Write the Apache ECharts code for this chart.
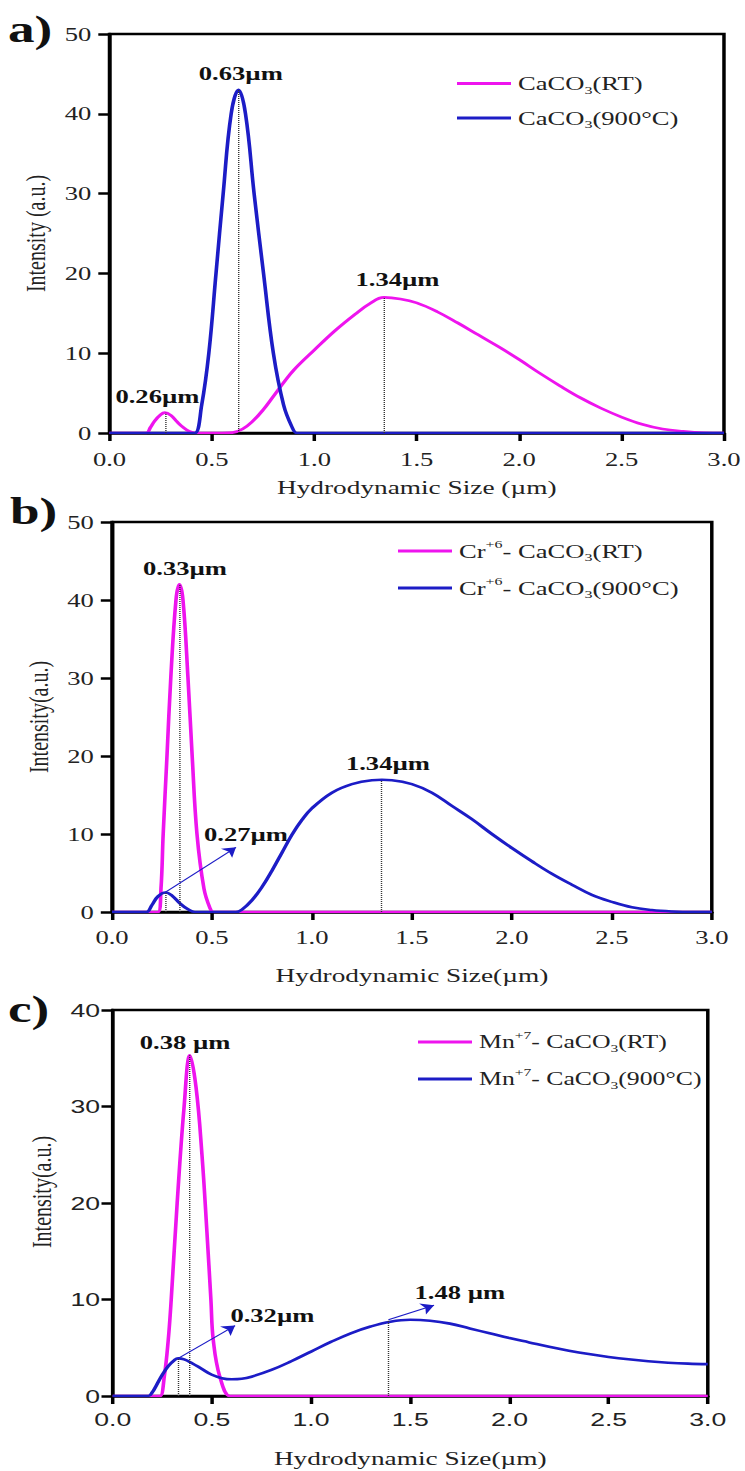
<!DOCTYPE html>
<html>
<head>
<meta charset="utf-8">
<script src="https://cdn.jsdelivr.net/npm/echarts/dist/echarts.min.js"></script>
<style>
  html, body { margin: 0; padding: 0; background: #fff; overflow: hidden; }
  /* the source figure is stretched sideways, so draw narrow and widen it */
  #main { width: 532px; height: 1471px; transform: scaleX(1.4); transform-origin: 0 0; }
</style>
</head>
<body>
<div id="main"></div>
<script>
var S = 1.4;
var SERIF = '"Liberation Serif", "Times New Roman", serif';
var SANS = '"Liberation Sans", Arial, sans-serif';
var MAGENTA = '#ee14ee';
var BLUE = '#1c1cc6';

// a) CaCO3
var aRtX = [0, 0.15, 0.18, 0.20, 0.22, 0.25, 0.27, 0.30, 0.33, 0.36, 0.39, 0.42, 0.45, 0.55, 0.60, 0.65, 0.70, 0.75, 0.80, 0.85, 0.90, 1.00, 1.10, 1.20, 1.27, 1.34, 1.42, 1.50, 1.60, 1.70, 1.80, 1.90, 2.00, 2.10, 2.20, 2.30, 2.40, 2.50, 2.60, 2.70, 2.80, 2.90, 3.00];
var aRtY = [0, 0, 0, 0.7, 1.5, 2.3, 2.55, 2.2, 1.4, 0.7, 0.2, 0, 0, 0, 0.05, 0.5, 1.5, 2.9, 4.6, 6.3, 7.9, 10.4, 12.8, 14.9, 16.2, 17.0, 16.8, 16.3, 15.2, 13.8, 12.3, 10.8, 9.2, 7.5, 5.9, 4.4, 3.1, 2.0, 1.1, 0.5, 0.2, 0.03, 0];
var aHotX = [0, 0.38, 0.416, 0.45, 0.485, 0.52, 0.555, 0.594, 0.63, 0.664, 0.706, 0.752, 0.80, 0.85, 0.89, 0.915, 0.95, 3.00];
var aHotY = [0, 0, 0, 3.5, 10, 20, 30, 40, 43, 40, 30, 20, 10, 3.5, 0.8, 0, 0, 0];
var aDrops = [[0.274, 2.55], [0.629, 43], [1.343, 17]];
var aTags = [['0.26µm', 0.234, 4.6], ['0.63µm', 0.641, 45.0], ['1.34µm', 1.406, 19.2]];
var aArrows = [];

// b) Cr+6 - CaCO3
var bRtX = [0, 0.20, 0.23, 0.245, 0.256, 0.275, 0.294, 0.32, 0.337, 0.355, 0.38, 0.401, 0.425, 0.46, 0.49, 0.507, 0.54, 3.00];
var bRtY = [0, 0, 0, 3, 10, 20, 30, 40, 42, 40, 30, 20, 10, 3, 0.5, 0, 0, 0];
var bHotX = [0, 0.15, 0.173, 0.20, 0.23, 0.268, 0.30, 0.34, 0.38, 0.415, 0.44, 0.60, 0.62, 0.65, 0.70, 0.75, 0.80, 0.85, 0.90, 0.95, 1.00, 1.10, 1.20, 1.30, 1.35, 1.40, 1.50, 1.60, 1.70, 1.80, 1.90, 2.00, 2.10, 2.20, 2.30, 2.40, 2.50, 2.60, 2.70, 2.80, 2.90, 3.00];
var bHotY = [0, 0, 0, 0.9, 2.0, 2.5, 2.1, 1.1, 0.35, 0, 0, 0, 0, 0.3, 1.5, 3.2, 5.3, 7.6, 9.9, 11.8, 13.3, 15.3, 16.4, 16.9, 16.95, 16.9, 16.4, 15.3, 13.6, 11.9, 10.0, 8.2, 6.5, 4.9, 3.5, 2.2, 1.3, 0.6, 0.25, 0.07, 0, 0];
var bDrops = [[0.268, 2.5], [0.337, 42], [1.345, 16.9]];
var bTags = [['0.33µm', 0.365, 44.0], ['0.27µm', 0.67, 10.0], ['1.34µm', 1.38, 19.0]];
var bArrows = [[0.258, 2.4, 0.62, 8.3]];

// c) Mn+7 - CaCO3
var cRtX = [0, 0.22, 0.239, 0.26, 0.28, 0.295, 0.325, 0.36, 0.389, 0.42, 0.45, 0.475, 0.495, 0.507, 0.54, 0.591, 0.62, 3.00];
var cRtY = [0, 0, 0, 2, 5.8, 10, 20, 30, 35.3, 32, 25, 17, 10, 5.8, 2, 0, 0, 0];
var cHotX = [0, 0.15, 0.18, 0.20, 0.22, 0.25, 0.28, 0.31, 0.33, 0.36, 0.40, 0.45, 0.50, 0.55, 0.60, 0.65, 0.70, 0.80, 0.90, 1.00, 1.10, 1.20, 1.30, 1.40, 1.50, 1.60, 1.70, 1.80, 1.90, 2.00, 2.10, 2.20, 2.30, 2.40, 2.50, 2.60, 2.70, 2.80, 2.90, 3.00];
var cHotY = [0, 0, 0, 0.4, 1.1, 2.2, 3.1, 3.7, 3.9, 3.8, 3.4, 2.8, 2.2, 1.85, 1.73, 1.78, 2.0, 2.7, 3.6, 4.6, 5.6, 6.5, 7.2, 7.7, 7.9, 7.8, 7.5, 7.0, 6.5, 6.0, 5.55, 5.1, 4.7, 4.35, 4.05, 3.8, 3.6, 3.45, 3.35, 3.3];
var cDrops = [[0.331, 3.9], [0.389, 35.3], [1.388, 7.8]];
var cTags = [['0.38 µm', 0.365, 36.6], ['0.32µm', 0.805, 8.3], ['1.48 µm', 1.75, 10.7]];
var cArrows = [[0.33, 3.9, 0.617, 7.3], [1.39, 7.9, 1.62, 9.4]];

var xTicks = ['0.0', '0.5', '1.0', '1.5', '2.0', '2.5', '3.0'];
var yMax = [50, 50, 40];
var panelLetters = ['a)', 'b)', 'c)'];
var xNames = ['Hydrodynamic Size (µm)', 'Hydrodynamic Size(µm)', 'Hydrodynamic Size(µm)'];
var yNames = ['Intensity (a.u.)', 'Intensity(a.u.)', 'Intensity(a.u.)'];
var names = [
    ['CaCO3(RT)', 'CaCO3(900°C)'],
    ['Cr+6- CaCO3(RT)', 'Cr+6- CaCO3(900°C)'],
    ['Mn+7- CaCO3(RT)', 'Mn+7- CaCO3(900°C)']
];
var legendText = {
    'CaCO3(RT)': '{n|CaCO}{sub|3}{n|(RT)}',
    'CaCO3(900°C)': '{n|CaCO}{sub|3}{n|(900°C)}',
    'Cr+6- CaCO3(RT)': '{n|Cr}{sup|+6}{n|- CaCO}{sub|3}{n|(RT)}',
    'Cr+6- CaCO3(900°C)': '{n|Cr}{sup|+6}{n|- CaCO}{sub|3}{n|(900°C)}',
    'Mn+7- CaCO3(RT)': '{n|Mn}{sup|+7}{n|- CaCO}{sub|3}{n|(RT)}',
    'Mn+7- CaCO3(900°C)': '{n|Mn}{sup|+7}{n|- CaCO}{sub|3}{n|(900°C)}'
};

// plot boxes, measured in the reference (pixels)
var boxes = [
    {left: 109.5, right: 724.5, top: 34, bottom: 433},
    {left: 112, right: 712, top: 522, bottom: 912},
    {left: 112.7, right: 708, top: 1010, bottom: 1396}
];
var fonts = [SERIF, SERIF, SANS];
var xLabelMargin = [17, 16, 14];
var xNameGap = [44, 53, 52];
var yNameGap = [31, 33, 32];
var yNameShift = [0, 0, 22];
var yLabelMargin = [13, 13, 9];
var legendPos = [[457, 74], [398, 539], [418, 1030]];
var legendFont = [19, 19, 18.4];
var letterPos = [[8, 10], [10, 492], [8, 990]];

function pairs(xs, ys) {
    return xs.map(function (x, i) { return [x, ys[i]]; });
}

function marks(drops, arrows) {
    var lines = drops.map(function (d) {
        return [{coord: [d[0], 0]}, {coord: [d[0], d[1]]}];
    });
    arrows.forEach(function (a) {
        lines.push([
            {coord: [a[0], a[1]], lineStyle: {color: BLUE, type: 'solid', width: 1}},
            {coord: [a[2], a[3]], symbol: 'arrow', symbolSize: 9}
        ]);
    });
    return lines;
}

var grids = [], xAxes = [], yAxes = [], series = [], legends = [], titles = [];
var panels = [
    [aRtX, aRtY, aHotX, aHotY, aDrops, aTags, aArrows],
    [bRtX, bRtY, bHotX, bHotY, bDrops, bTags, bArrows],
    [cRtX, cRtY, cHotX, cHotY, cDrops, cTags, cArrows]
];

panels.forEach(function (p, i) {
    var b = boxes[i];
    grids.push({
        left: b.left / S, right: (745 - b.right) / S, top: b.top, height: b.bottom - b.top,
        show: true, borderColor: '#000', borderWidth: 2.5, containLabel: false
    });
    xAxes.push({
        type: 'value', gridIndex: i, min: 0, max: 3, interval: 0.5,
        name: xNames[i], nameLocation: 'middle', nameGap: xNameGap[i],
        nameTextStyle: {fontFamily: SERIF, fontSize: 19.5, color: '#222'},
        axisLine: {lineStyle: {color: '#000', width: 2.5}},
        axisTick: {length: 8, lineStyle: {color: '#000', width: 2.5}},
        axisLabel: {
            margin: xLabelMargin[i], fontFamily: fonts[i], fontSize: 19, color: '#222',
            formatter: function (v) { return xTicks[Math.round(v / 0.5)]; }
        },
        splitLine: {show: false}
    });
    yAxes.push({
        type: 'value', gridIndex: i, min: 0, max: yMax[i], interval: 10,
        name: yNames[i], nameLocation: 'middle', nameGap: yNameGap[i],
        nameTextStyle: {fontFamily: SERIF, fontSize: 20, color: '#222', padding: [0, 0, 0, yNameShift[i]]},
        axisLine: {show: true, lineStyle: {color: '#000', width: 2.5}},
        axisTick: {show: true, length: 8, lineStyle: {color: '#000', width: 2.5}},
        axisLabel: {margin: yLabelMargin[i], fontFamily: fonts[i], fontSize: 19, color: '#222'},
        splitLine: {show: false}
    });
    series.push({
        name: names[i][0], type: 'line', xAxisIndex: i, yAxisIndex: i,
        data: pairs(p[0], p[1]), symbol: 'none', smooth: 0.4,
        lineStyle: {color: MAGENTA, width: 2.6}, itemStyle: {color: MAGENTA}
    });
    series.push({
        name: names[i][1], type: 'line', xAxisIndex: i, yAxisIndex: i,
        data: pairs(p[2], p[3]), symbol: 'none', smooth: 0.4,
        lineStyle: {color: BLUE, width: 2.6}, itemStyle: {color: BLUE},
        markLine: {
            silent: true, symbol: ['none', 'none'], label: {show: false},
            lineStyle: {color: '#333', type: 'dotted', width: 1},
            data: marks(p[4], p[6])
        },
        markPoint: {
            silent: true, symbol: 'circle', symbolSize: 1,
            itemStyle: {color: 'rgba(0,0,0,0)'},
            label: {
                show: true, position: 'inside', color: '#111',
                fontFamily: SERIF, fontWeight: 'bold', fontSize: 19
            },
            data: p[5].map(function (t) {
                return {coord: [t[1], t[2]], label: {formatter: t[0]}};
            })
        }
    });
    var fs = legendFont[i];
    legends.push({
        data: names[i], orient: 'vertical',
        left: legendPos[i][0] / S, top: legendPos[i][1], padding: 0,
        icon: 'rect', itemWidth: 54 / S, itemHeight: 3, itemGap: 13,
        formatter: function (n) { return legendText[n]; },
        textStyle: {
            rich: {
                n: {fontFamily: SERIF, fontSize: fs, color: '#222', lineHeight: 24},
                sub: {fontFamily: SERIF, fontSize: fs * 0.6, color: '#222', verticalAlign: 'bottom', lineHeight: 24},
                sup: {fontFamily: SERIF, fontSize: fs * 0.6, color: '#222', verticalAlign: 'top', lineHeight: 24}
            }
        }
    });
    titles.push({
        text: panelLetters[i], left: letterPos[i][0] / S, top: letterPos[i][1], padding: 0,
        textStyle: {fontFamily: SERIF, fontWeight: 'bold', fontSize: 38, color: '#111'}
    });
});

var chart = echarts.init(document.getElementById('main'), null, {renderer: 'svg'});
chart.setOption({
    animation: false,
    backgroundColor: '#fff',
    title: titles,
    legend: legends,
    grid: grids,
    xAxis: xAxes,
    yAxis: yAxes,
    series: series
});
</script>
</body>
</html>
